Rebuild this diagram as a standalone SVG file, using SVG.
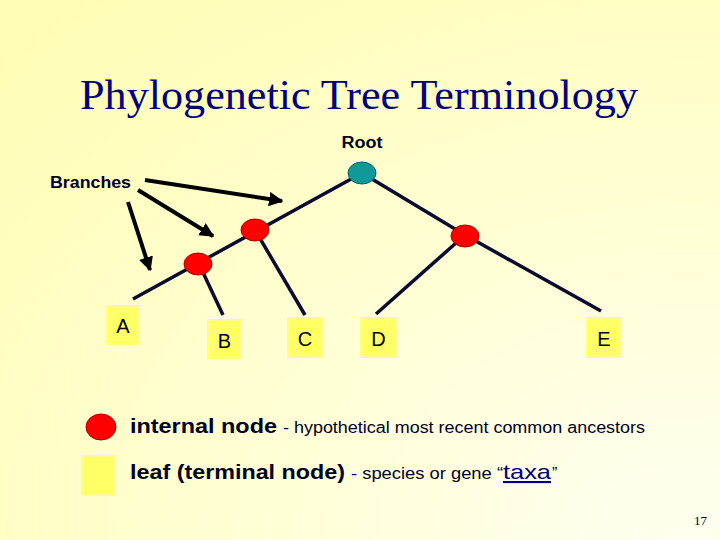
<svg xmlns="http://www.w3.org/2000/svg" width="720" height="540" viewBox="0 0 720 540">
<defs>
<radialGradient id="bg" cx="0.95" cy="1" r="1.3">
<stop offset="0" stop-color="#FFFFF0"/>
<stop offset="1" stop-color="#FFFDB5"/>
</radialGradient>
<marker id="ah" viewBox="0 0 10 10" refX="9" refY="5" markerWidth="3.6" markerHeight="3.6" orient="auto" markerUnits="strokeWidth">
<path d="M0,0 L10,5 L0,10 z" fill="#000"/>
</marker>
<style>
.edge{stroke:#0A0A30;stroke-width:3.5;fill:none}
.arrow{stroke:#000;stroke-width:4;fill:none;marker-end:url(#ah)}
.red{fill:#FF0000;stroke:#B00000;stroke-width:1}
.teal{fill:#119999;stroke:#066;stroke-width:1}
.leaf{fill:#FFFF66;stroke:#FFFF88;stroke-width:2}
.lbl{font-family:"Liberation Sans",Arial,sans-serif;font-size:20px;fill:#000;text-anchor:middle}
.bold{font-family:"Liberation Sans",Arial,sans-serif;font-weight:bold;fill:#000022}
.reg{font-family:"Liberation Sans",Arial,sans-serif;fill:#000022}
</style>
</defs>
<rect width="720" height="540" fill="url(#bg)"/>
<text x="359" y="109" font-family="'Liberation Serif','Times New Roman',serif" font-size="42" fill="#000080" text-anchor="middle" textLength="558" lengthAdjust="spacingAndGlyphs">Phylogenetic Tree Terminology</text>
<text x="362" y="148" class="bold" font-size="16" text-anchor="middle" textLength="41" lengthAdjust="spacingAndGlyphs">Root</text>
<text x="50" y="188" class="bold" font-size="16" textLength="81" lengthAdjust="spacingAndGlyphs">Branches</text>
<g id="connectors">
<line class="edge" x1="133" y1="299" x2="362" y2="173"/>
<line class="edge" x1="199" y1="264" x2="223" y2="315"/>
<line class="edge" x1="255" y1="230" x2="305" y2="315"/>
<line class="edge" x1="362" y1="173" x2="465" y2="235"/>
<line class="edge" x1="465" y1="235" x2="376" y2="314"/>
<line class="edge" x1="465" y1="235" x2="601" y2="311"/>
<line class="arrow" x1="145" y1="180" x2="282" y2="201"/>
<line class="arrow" x1="138" y1="190" x2="213" y2="236"/>
<line class="arrow" x1="128" y1="202" x2="150" y2="270"/>
</g>
<g id="root"><ellipse class="teal" cx="362" cy="173" rx="14" ry="11"/></g>
<g id="n1"><ellipse class="red" cx="255" cy="230" rx="14" ry="11"/></g>
<g id="n2"><ellipse class="red" cx="198" cy="264" rx="14" ry="11"/></g>
<g id="n3"><ellipse class="red" cx="465" cy="236" rx="14" ry="11"/></g>
<g id="leafA"><rect class="leaf" x="107" y="306" width="32" height="38"/><text class="lbl" x="123" y="333">A</text></g>
<g id="leafB"><rect class="leaf" x="208" y="320" width="33" height="38"/><text class="lbl" x="224.5" y="348">B</text></g>
<g id="leafC"><rect class="leaf" x="288" y="318" width="34" height="39"/><text class="lbl" x="305" y="346">C</text></g>
<g id="leafD"><rect class="leaf" x="361" y="318" width="35" height="39"/><text class="lbl" x="378.5" y="346">D</text></g>
<g id="leafE"><rect class="leaf" x="587" y="318" width="34" height="39"/><text class="lbl" x="604" y="346">E</text></g>
<g id="legend-internal">
<ellipse class="red" cx="101" cy="427" rx="15" ry="13"/>
<text x="130" y="433" class="bold" font-size="21" textLength="147" lengthAdjust="spacingAndGlyphs">internal node</text>
<text x="283" y="433" class="reg" font-size="16" textLength="362" lengthAdjust="spacingAndGlyphs">- hypothetical most recent common ancestors</text>
</g>
<g id="legend-leaf">
<rect class="leaf" x="82" y="456" width="32" height="39"/>
<text x="130" y="479" class="bold" font-size="21" textLength="215" lengthAdjust="spacingAndGlyphs">leaf (terminal node)</text>
<text x="351" y="479" class="reg" font-size="16" textLength="152" lengthAdjust="spacingAndGlyphs">- species or gene “</text>
<text x="503" y="479" class="reg" font-size="21" text-decoration="underline" textLength="48" lengthAdjust="spacingAndGlyphs" style="fill:#000080">taxa</text>
<text x="552" y="479" class="reg" font-size="16">”</text>
</g>
<text x="707" y="525" font-family="'Liberation Serif','Times New Roman',serif" font-size="13" fill="#000" text-anchor="end">17</text>
</svg>
